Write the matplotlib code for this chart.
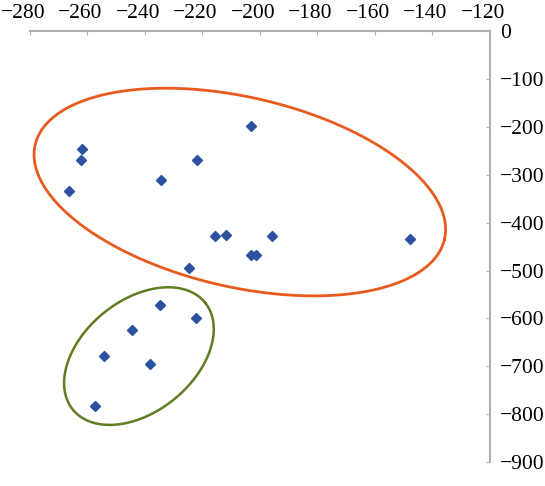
import numpy as np
import matplotlib
matplotlib.use("Agg")
import matplotlib.pyplot as plt
import matplotlib.transforms as mtransforms

## data
x_pts = [-203, -262, -262.3, -266.4, -234.4, -221.9, -215.7, -211.8, -195.8,
         -203, -201.5, -224.7, -147.8,
         -234.8, -222.3, -244.5, -254.3, -238.3, -257.4]
y_pts = [-198, -246, -269, -334, -311, -269, -428, -426, -428,
         -468, -468, -495, -434,
         -572, -599, -624, -678, -695, -783]

x_ticks = [-280, -260, -240, -220, -200, -180, -160, -140, -120]
y_ticks = [0, -100, -200, -300, -400, -500, -600, -700, -800, -900]

# ellipses: center, major vector, minor vector (data units)
orange_center = (-207.0, -336.0)
orange_u = (71.2, -98.5)
orange_v = (-7.4, -193.1)
green_center = (-242.1, -678.5)
green_u = (23.0, 111.7)
green_v = (12.2, -90.4)

plt.rcParams["font.family"] = ["Liberation Serif", "DejaVu Serif"]

fig = plt.figure(figsize=(5.45, 4.86), dpi=100)
ax = fig.add_axes([0.055, 0.049, 0.844, 0.887])

t = np.linspace(0, 2 * np.pi, 300)
for c, u, v, col, lw in [(orange_center, orange_u, orange_v, "#e85a1e", 2.0),
                         (green_center, green_u, green_v, "#5f7d22", 1.8)]:
    ex = c[0] + u[0] * np.cos(t) + v[0] * np.sin(t)
    ey = c[1] + u[1] * np.cos(t) + v[1] * np.sin(t)
    ax.plot(ex, ey, color=col, lw=lw)

ax.plot(x_pts, y_pts, "D", color="#2a52a0", ms=5, ls="none")

ax.set_xlim(-280, -120)
ax.set_ylim(-900, 0)
ax.set_xticks(x_ticks)
ax.set_yticks(y_ticks)
ax.xaxis.tick_top()
ax.yaxis.tick_right()
for s in ["left", "bottom"]:
    ax.spines[s].set_visible(False)
for s in ["top", "right"]:
    ax.spines[s].set_color("#b0b0b0")
    ax.spines[s].set_linewidth(1.5)
ax.tick_params(direction="in", length=3, color="#b0b0b0", labelsize=15.5)
ax.tick_params(axis="x", pad=6)
ax.tick_params(axis="y", pad=7)

# x labels sit a bit left of their ticks in the original
shift = mtransforms.ScaledTranslation(-7 / 100, 0, fig.dpi_scale_trans)
for lab in ax.get_xticklabels():
    lab.set_transform(lab.get_transform() + shift)

fig.savefig("out.png", dpi=100)
